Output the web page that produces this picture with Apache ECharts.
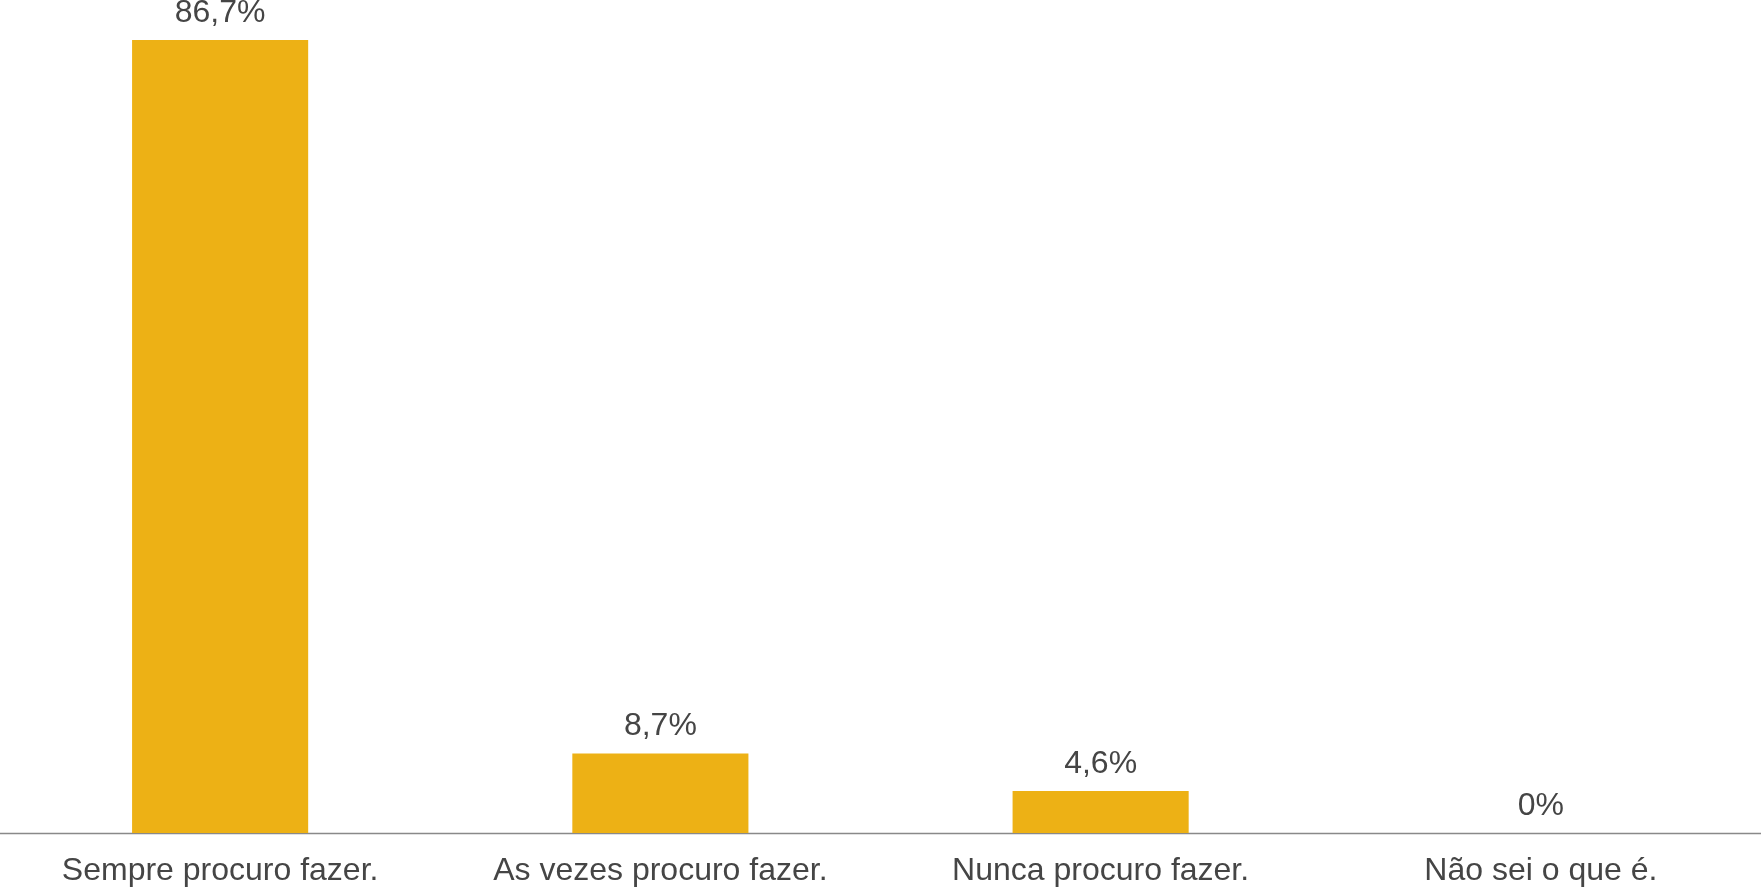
<!DOCTYPE html>
<html>
<head>
<meta charset="utf-8">
<script src="https://cdn.jsdelivr.net/npm/echarts@6/dist/echarts.min.js"></script>
<style>html,body{margin:0;padding:0;background:#fff}#c{width:1761px;height:889px}</style>
</head>
<body>
<div id="c"></div>
<script>
const categories = ["Sempre procuro fazer.", "As vezes procuro fazer.", "Nunca procuro fazer.", "Não sei o que é."];
const values = [86.7, 8.7, 4.6, 0];
const valueLabels = ["86,7%", "8,7%", "4,6%", "0%"];

const chart = echarts.init(document.getElementById('c'), null, {renderer: 'canvas'});
chart.setOption({
  animation: false,
  grid: {left: 0, right: 0, top: 40, bottom: 56, containLabel: false},
  xAxis: {
    type: 'category',
    data: categories,
    axisLine: {lineStyle: {color: '#898989', width: 1.3}},
    axisTick: {show: false},
    axisLabel: {color: '#454545', fontSize: 32, fontFamily: 'Liberation Sans, Arial, sans-serif', margin: 22}
  },
  yAxis: {
    type: 'value', min: 0, max: 86.7, show: false,
    splitLine: {show: false}
  },
  series: [{
    type: 'bar',
    data: values,
    barWidth: '40%',
    itemStyle: {color: '#EDB115'},
    label: {
      show: true, position: 'top', distance: 11,
      color: '#454545', fontSize: 32, fontFamily: 'Liberation Sans, Arial, sans-serif',
      formatter: p => valueLabels[p.dataIndex]
    }
  }]
});
</script>
</body>
</html>
